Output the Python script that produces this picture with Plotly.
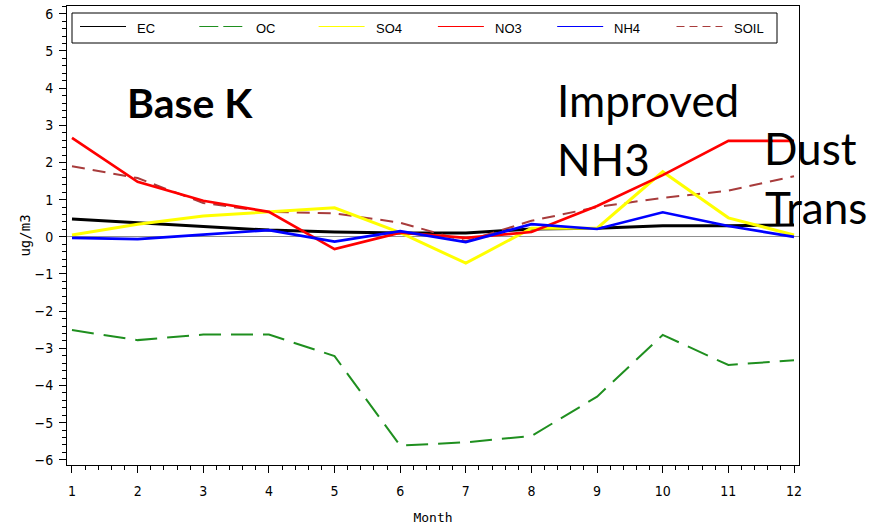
import plotly.graph_objects as go

months = list(range(1, 13))

EC = [0.48, 0.38, 0.26, 0.18, 0.13, 0.10, 0.10, 0.21, 0.23, 0.30, 0.30, 0.32]
OC = [-2.51, -2.78, -2.63, -2.63, -3.21, -5.62, -5.53, -5.36, -4.30, -2.64, -3.45, -3.32]
SO4 = [0.05, 0.34, 0.56, 0.66, 0.78, 0.11, -0.71, 0.23, 0.23, 1.75, 0.51, 0.05]
NO3 = [2.66, 1.48, 0.97, 0.67, -0.33, 0.11, -0.03, 0.13, 0.83, 1.66, 2.58, 2.58]
NH4 = [-0.03, -0.06, 0.06, 0.18, -0.13, 0.15, -0.14, 0.34, 0.21, 0.66, 0.29, 0.0]
SOIL = [1.90, 1.58, 0.91, 0.67, 0.63, 0.38, -0.12, 0.43, 0.80, 1.05, 1.24, 1.63]

series_names = ["EC", "OC", "SO4", "NO3", "NH4", "SOIL"]
series_vals = {"EC": EC, "OC": OC, "SO4": SO4, "NO3": NO3, "NH4": NH4, "SOIL": SOIL}
colors = {"EC": "#000000", "OC": "#1f8f1f", "SO4": "#ffff00", "NO3": "#ff0000",
          "NH4": "#0000ff", "SOIL": "#a83c3c"}
dashes = {"EC": "solid", "OC": "22px,10px", "SO4": "solid", "NO3": "solid",
          "NH4": "solid", "SOIL": "13px,8px"}
legend_dashes = {"EC": "solid", "OC": "19px,5px", "SO4": "solid", "NO3": "solid",
                 "NH4": "solid", "SOIL": "8px,5px"}
widths = {"EC": 3, "OC": 2, "SO4": 3, "NO3": 2.7, "NH4": 2.7, "SOIL": 2}
draw_order = ["EC", "OC", "SOIL", "SO4", "NO3", "NH4"]

annotations_txt = [
    ("Base K", True, 41, 125, 102),
    ("Improved", False, 44, 555, 100),
    ("NH3", False, 44, 555, 159),
    ("Dust", False, 44, 762, 148),
    ("Trans", False, 44, 763, 207),
]

L, R, T, B = 67, 81, 6, 65
W, H = 880, 530
pw, ph = W - L - R, H - T - B


def px(x):
    return (x - L) / pw


def py(y):
    return (H - B - y) / ph


fig = go.Figure()
for name in draw_order:
    fig.add_trace(go.Scatter(
        x=months, y=series_vals[name], mode="lines", name=name, showlegend=False,
        line=dict(color=colors[name], width=widths[name], dash=dashes[name]),
    ))

# legend box drawn as in the original (SAS style)
shapes = [dict(type="rect", xref="paper", yref="paper",
               x0=px(72), x1=px(777), y0=py(43), y1=py(13),
               line=dict(color="black", width=1), fillcolor="white", layer="above")]
anns = []
leg_x0 = 80
leg_step = 119.3
for i, name in enumerate(series_names):
    x0 = leg_x0 + i * leg_step
    shapes.append(dict(type="line", xref="paper", yref="paper",
                       x0=px(x0), x1=px(x0 + 46), y0=py(26.5), y1=py(26.5),
                       line=dict(color=colors[name], width=1, dash=legend_dashes[name]),
                       layer="above"))
    anns.append(dict(text=name, x=px(x0 + 55), y=py(28.5), xref="paper", yref="paper",
                     xanchor="left", yanchor="middle", showarrow=False,
                     font=dict(family="Liberation Sans, Arial, sans-serif", size=13, color="black")))

for txt, bold, size, x, y in annotations_txt:
    anns.append(dict(
        text=("<b>%s</b>" % txt) if bold else txt, x=px(x), y=py(y),
        xref="paper", yref="paper", xanchor="left", yanchor="middle",
        showarrow=False, font=dict(family="Lato, Carlito, sans-serif", size=size, color="black"),
    ))

tickfont = dict(family="Liberation Sans Narrow, DejaVu Sans Condensed, sans-serif", size=14, color="black")

fig.update_layout(
    width=W, height=H,
    margin=dict(l=L, r=R, t=T, b=B, pad=0),
    paper_bgcolor="white", plot_bgcolor="white",
    showlegend=False,
    shapes=shapes,
    annotations=anns,
    xaxis=dict(
        range=[0.924, 12.076], tickmode="array", tickvals=months, ticktext=[str(m) for m in months],
        showline=True, linecolor="black", linewidth=1, mirror=True,
        ticks="outside", ticklen=7, tickcolor="black", tickwidth=1,
        minor=dict(dtick=0.2, tick0=1, ticks="outside", ticklen=4, tickcolor="black"),
        showgrid=False, zeroline=False, tickfont=tickfont, ticklabelstandoff=6,
        title=dict(text="Month", standoff=15,
                   font=dict(family="DejaVu Sans Mono, monospace", size=13, color="black")),
    ),
    yaxis=dict(
        range=[-6.14, 6.21], tickmode="linear", tick0=0, dtick=1,
        showline=True, linecolor="black", linewidth=1, mirror=True,
        ticks="outside", ticklen=7, tickcolor="black", tickwidth=1,
        minor=dict(dtick=0.2, tick0=0, ticks="outside", ticklen=4, tickcolor="black"),
        showgrid=False, zeroline=True, zerolinecolor="#909090", zerolinewidth=1,
        tickfont=tickfont, ticklabelstandoff=3,
        title=dict(text="ug/m3", standoff=0,
                   font=dict(family="DejaVu Sans Mono, monospace", size=14, color="black")),
    ),
)

fig.write_html("out.html")
